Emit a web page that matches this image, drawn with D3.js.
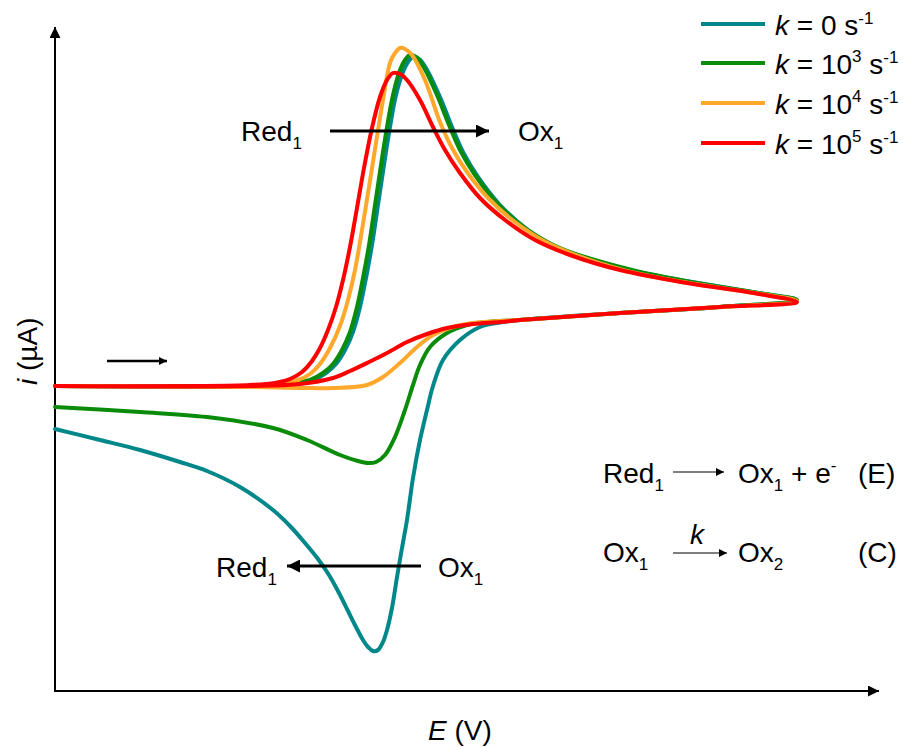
<!DOCTYPE html>
<html><head><meta charset="utf-8">
<script src="https://cdn.jsdelivr.net/npm/d3@7"></script>
<style>body{margin:0;background:#fff}svg{display:block}text{font-family:Arial,"Liberation Sans",sans-serif;fill:#000}</style>
</head><body>
<script>
// ---- data (E in V, i in µA) ----
const legendLabels = ["0", "10", "10", "10"];
const legendExps = [null, "3", "4", "5"];
const colors = ["#00878a", "#0a8c0a", "#ffa82b", "#ff0000"];

const tealE = [-0.2,-0.005,0.038,0.058,0.071,0.081,0.090,0.098,0.105,0.111,0.117,0.123,0.129,0.135,0.141,0.148,0.153,0.158,0.164,0.171,0.185,0.197,0.208,0.223,0.245,0.273,0.308,0.379,0.443,0.504,0.542,
  0.465,0.365,0.265,0.242,0.225,0.205,0.188,0.178,0.172,0.165,0.158,0.152,0.147,0.142,0.137,0.132,0.128,0.123,0.118,0.113,0.108,0.101,0.093,0.084,0.074,0.063,0.050,0.035,0.018,-0.015,-0.048,-0.075,-0.115,-0.155,-0.2];
const tealI = [0,0,0.02,0.06,0.13,0.22,0.36,0.54,0.79,1.08,1.41,1.81,2.21,2.59,2.91,3.14,3.24,3.29,3.27,3.18,2.89,2.59,2.34,2.09,1.81,1.56,1.36,1.15,1.03,0.93,0.86,
  0.79,0.73,0.66,0.63,0.59,0.46,0.26,0.00,-0.24,-0.54,-0.92,-1.34,-1.62,-1.91,-2.22,-2.44,-2.56,-2.64,-2.65,-2.61,-2.54,-2.41,-2.25,-2.07,-1.89,-1.73,-1.57,-1.40,-1.24,-1.01,-0.85,-0.76,-0.64,-0.54,-0.43];

const greenE = [-0.2,-0.005,0.035,0.055,0.068,0.078,0.087,0.095,0.102,0.108,0.114,0.120,0.126,0.132,0.138,0.145,0.150,0.155,0.161,0.168,0.182,0.194,0.205,0.220,0.242,0.270,0.305,0.377,0.442,0.503,0.542,
  0.465,0.365,0.265,0.232,0.212,0.192,0.175,0.165,0.158,0.150,0.140,0.130,0.121,0.113,0.103,0.085,0.052,0.018,-0.048,-0.115,-0.2];
const greenI = [0,0,0.02,0.06,0.13,0.22,0.36,0.54,0.79,1.08,1.41,1.81,2.21,2.59,2.91,3.16,3.26,3.31,3.29,3.20,2.91,2.61,2.36,2.11,1.83,1.58,1.38,1.16,1.03,0.93,0.86,
  0.79,0.73,0.66,0.64,0.61,0.53,0.39,0.21,0.01,-0.24,-0.51,-0.69,-0.76,-0.77,-0.75,-0.69,-0.54,-0.42,-0.31,-0.26,-0.21];

const orangeE = [-0.2,-0.005,0.025,0.043,0.055,0.065,0.075,0.085,0.093,0.100,0.107,0.114,0.121,0.128,0.135,0.140,0.145,0.150,0.157,0.170,0.185,0.197,0.212,0.233,0.260,0.295,0.368,0.434,0.500,0.542,
  0.465,0.365,0.265,0.218,0.198,0.178,0.162,0.145,0.128,0.112,0.078,0.045,-0.005,-0.2];
const orangeI = [0,0,0.02,0.06,0.12,0.22,0.38,0.60,0.86,1.16,1.56,1.99,2.43,2.86,3.23,3.33,3.38,3.37,3.31,3.06,2.64,2.38,2.14,1.88,1.64,1.42,1.16,1.03,0.93,0.85,
  0.79,0.73,0.66,0.63,0.59,0.51,0.39,0.23,0.09,0.01,-0.02,-0.02,-0.01,0];

const redE = [-0.2,-0.055,-0.005,0.020,0.035,0.047,0.057,0.065,0.073,0.081,0.088,0.095,0.102,0.109,0.117,0.125,0.132,0.138,0.145,0.152,0.165,0.178,0.190,0.205,0.225,0.250,0.280,0.315,0.365,0.432,0.498,0.542,
  0.465,0.365,0.265,0.245,0.218,0.192,0.172,0.152,0.132,0.112,0.095,0.078,0.045,-0.005,-0.2];
const redI = [0,0,0.01,0.03,0.07,0.14,0.25,0.38,0.56,0.79,1.06,1.39,1.78,2.18,2.58,2.89,3.06,3.13,3.12,3.06,2.86,2.59,2.36,2.13,1.88,1.66,1.46,1.31,1.16,1.03,0.93,0.84,
  0.79,0.73,0.66,0.64,0.62,0.58,0.52,0.44,0.33,0.23,0.15,0.08,0.02,0,0];

const seriesE = [tealE, greenE, orangeE, redE];
const seriesI = [tealI, greenI, orangeI, redI];

// ---- layout ----
const W = 903, H = 747, FS = 28, SFS = 17;
const x = d3.scaleLinear().domain([-0.2, 0.623]).range([55, 878]);
const y = d3.scaleLinear().domain([-3.05, 3.58]).range([691, 28]);

const svg = d3.select("body").append("svg").attr("width", W).attr("height", H);
const defs = svg.append("defs");
function marker(id, w, h) {
  defs.append("marker").attr("id", id).attr("viewBox", "0 0 10 10")
    .attr("refX", 10).attr("refY", 5).attr("markerUnits", "userSpaceOnUse")
    .attr("markerWidth", w).attr("markerHeight", h).attr("orient", "auto")
    .append("path").attr("d", "M0,0 L10,5 L0,10 z").attr("fill", "#000");
}
marker("big", 18, 13);
marker("small", 12, 8);
marker("ax", 14, 11);

// axes
const x0 = x(-0.2), yb = y(-3.05);
svg.append("line").attr("x1", x0).attr("y1", yb).attr("x2", x0).attr("y2", 27)
  .attr("stroke", "#000").attr("stroke-width", 2).attr("marker-end", "url(#ax)");
svg.append("line").attr("x1", x0 - 1).attr("y1", yb).attr("x2", 879).attr("y2", yb)
  .attr("stroke", "#000").attr("stroke-width", 2).attr("marker-end", "url(#ax)");

// curves
const line = d3.line().x(d => x(d[0])).y(d => y(d[1])).curve(d3.curveCatmullRom.alpha(0.5));
seriesE.forEach((es, k) => {
  const pts = es.map((e, j) => [e, seriesI[k][j]]);
  svg.append("path").attr("d", line(pts)).attr("fill", "none")
    .attr("stroke", colors[k]).attr("stroke-width", 4)
    .attr("stroke-linejoin", "round").attr("stroke-linecap", "round");
});

// legend
const legY = [24, 63, 103, 143];
legendLabels.forEach((lab, k) => {
  svg.append("line").attr("x1", 701).attr("x2", 765).attr("y1", legY[k]).attr("y2", legY[k])
    .attr("stroke", colors[k]).attr("stroke-width", 4);
  const t = svg.append("text").attr("x", 775).attr("y", legY[k] + 11).attr("font-size", FS);
  t.append("tspan").attr("font-style", "italic").text("k");
  t.append("tspan").text(" = " + lab);
  if (legendExps[k]) t.append("tspan").attr("font-size", SFS).attr("dy", -12).text(legendExps[k]);
  t.append("tspan").attr("dy", legendExps[k] ? 12 : 0).text(" s");
  t.append("tspan").attr("font-size", SFS).attr("dy", -11).text("-1");
});

// helper: text with subscript
function subText(xp, yp, main, sub) {
  const t = svg.append("text").attr("x", xp).attr("y", yp).attr("font-size", FS);
  t.append("tspan").text(main);
  t.append("tspan").attr("font-size", SFS).attr("dy", 8).text(sub);
  return t;
}

// upper annotation
subText(241, 141, "Red", "1");
svg.append("line").attr("x1", 330).attr("x2", 489).attr("y1", 131).attr("y2", 131)
  .attr("stroke", "#000").attr("stroke-width", 3).attr("marker-end", "url(#big)");
subText(518, 141, "Ox", "1");

// lower annotation
subText(216, 577, "Red", "1");
svg.append("line").attr("x1", 421).attr("x2", 287).attr("y1", 566).attr("y2", 566)
  .attr("stroke", "#000").attr("stroke-width", 3).attr("marker-end", "url(#big)");
subText(438, 577, "Ox", "1");

// scan direction arrow
svg.append("line").attr("x1", 107).attr("x2", 167).attr("y1", 361).attr("y2", 361)
  .attr("stroke", "#000").attr("stroke-width", 2.5).attr("marker-end", "url(#small)");

// reaction scheme
subText(603, 483, "Red", "1");
svg.append("line").attr("x1", 673).attr("x2", 724).attr("y1", 472).attr("y2", 472)
  .attr("stroke", "#000").attr("stroke-width", 1.2).attr("marker-end", "url(#small)");
{
  const t = svg.append("text").attr("x", 738).attr("y", 483).attr("font-size", FS);
  t.append("tspan").text("Ox");
  t.append("tspan").attr("font-size", SFS).attr("dy", 8).text("1");
  t.append("tspan").attr("dy", -8).text(" + e");
  t.append("tspan").attr("font-size", SFS).attr("dy", -12).text("-");
  svg.append("text").attr("x", 858).attr("y", 483).attr("font-size", FS).text("(E)");
}
subText(603, 562, "Ox", "1");
svg.append("line").attr("x1", 673).attr("x2", 727).attr("y1", 553).attr("y2", 553)
  .attr("stroke", "#000").attr("stroke-width", 1.2).attr("marker-end", "url(#small)");
svg.append("text").attr("x", 690).attr("y", 544).attr("font-size", FS).attr("font-style", "italic").text("k");
subText(738, 562, "Ox", "2");
svg.append("text").attr("x", 858).attr("y", 562).attr("font-size", FS).text("(C)");

// axis labels
{
  const t = svg.append("text").attr("x", 428).attr("y", 740).attr("font-size", FS);
  t.append("tspan").attr("font-style", "italic").text("E");
  t.append("tspan").text(" (V)");
  const u = svg.append("text").attr("transform", "translate(37,385) rotate(-90)").attr("font-size", FS);
  u.append("tspan").attr("font-style", "italic").text("i");
  u.append("tspan").text(" (µA)");
}
</script>
</body></html>
